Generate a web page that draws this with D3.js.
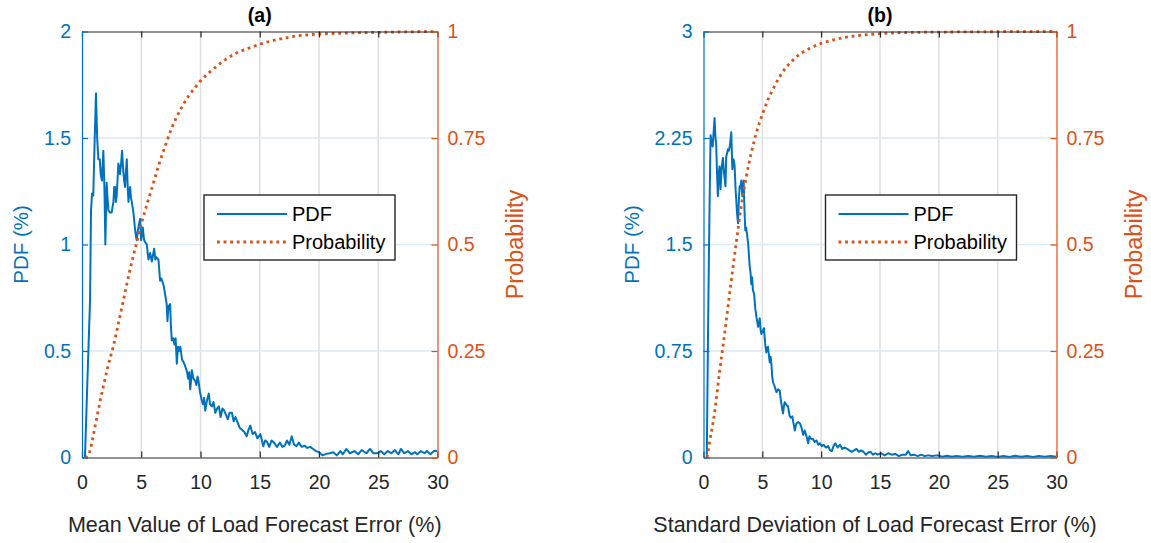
<!DOCTYPE html>
<html>
<head>
<meta charset="utf-8">
<script src="https://cdn.jsdelivr.net/npm/d3@7"></script>
<style>
body{margin:0;background:#fff;}
svg{font-family:"Liberation Sans",Arial,sans-serif;}
</style>
</head>
<body>
<svg id="chart" width="1151" height="543"></svg>
<script>
// values
var xTicks = [0, 5, 10, 15, 20, 25, 30];
var pdfTicksA = [0, 0.5, 1, 1.5, 2];
var pdfLabelsA = ["0", "0.5", "1", "1.5", "2"];
var pdfTicksB = [0, 0.75, 1.5, 2.25, 3];
var pdfLabelsB = ["0", "0.75", "1.5", "2.25", "3"];
var probTicks = [0, 0.25, 0.5, 0.75, 1];
var probLabels = ["0", "0.25", "0.5", "0.75", "1"];
var titles = ["(a)", "(b)"];
var xLabels = ["Mean Value of Load Forecast Error (%)", "Standard Deviation of Load Forecast Error (%)"];
var legendNames = ["PDF", "Probability"];

var pdfA = [[0.25,0],[0.45,0.35],[0.68,0.74],[0.76,1.16],[0.85,1.24],[0.95,1.23],[1.05,1.45],[1.18,1.71],[1.28,1.5],[1.38,1.4],
  [1.5,1.4],[1.58,1.33],[1.68,1.3],[1.8,1.44],[1.9,1.25],[1.97,1.0],[2.08,1.29],[2.15,1.22],[2.23,1.16],[2.35,1.15],
  [2.5,1.15],[2.65,1.2],[2.72,1.27],[2.79,1.27],[2.86,1.2],[2.93,1.23],[3.07,1.38],[3.14,1.36],[3.21,1.33],[3.3,1.38],
  [3.38,1.44],[3.49,1.34],[3.56,1.3],[3.63,1.27],[3.7,1.34],[3.78,1.4],[3.85,1.28],[3.92,1.2],[4.0,1.25],[4.06,1.27],
  [4.13,1.22],[4.2,1.2],[4.34,1.15],[4.48,1.07],[4.55,1.04],[4.62,1.02],[4.7,1.06],[4.76,1.08],[4.83,1.1],[4.9,1.12],
  [4.99,1.02],[5.06,1.05],[5.13,1.08],[5.24,1.02],[5.35,1.01],[5.47,1.0],[5.54,0.96],[5.61,0.93],[5.75,0.96],[5.89,0.92],
  [5.99,0.95],[6.09,0.98],[6.18,0.93],[6.26,0.94],[6.45,0.93],[6.52,0.88],[6.59,0.83],[6.7,0.84],[6.88,0.81],[7.0,0.77],
  [7.15,0.72],[7.21,0.64],[7.3,0.71],[7.44,0.72],[7.5,0.62],[7.58,0.55],[7.7,0.56],[7.8,0.53],[7.9,0.56],[8.0,0.44],
  [8.1,0.52],[8.2,0.5],[8.3,0.52],[8.44,0.46],[8.55,0.45],[8.7,0.43],[8.87,0.4],[8.95,0.37],[9.05,0.4],[9.13,0.32],
  [9.2,0.36],[9.27,0.41],[9.4,0.37],[9.55,0.36],[9.65,0.34],[9.75,0.38],[9.83,0.36],[9.95,0.31],[10.1,0.27],[10.2,0.25],
  [10.3,0.28],[10.4,0.22],[10.55,0.27],[10.7,0.3],[10.8,0.25],[10.96,0.24],[11.1,0.26],[11.25,0.21],[11.4,0.23],[11.55,0.24],
  [11.7,0.19],[11.85,0.23],[12.0,0.22],[12.15,0.2],[12.3,0.18],[12.45,0.21],[12.65,0.21],[12.8,0.17],[12.95,0.19],[13.1,0.17],
  [13.3,0.14],[13.5,0.13],[13.7,0.12],[13.9,0.1],[14.05,0.13],[14.2,0.15],[14.4,0.11],[14.6,0.12],[14.8,0.09],[15.05,0.11],
  [15.3,0.053],[15.45,0.08],[15.6,0.075],[15.8,0.05],[16.0,0.08],[16.2,0.07],[16.45,0.05],[16.7,0.07],[16.9,0.05],[17.1,0.055],
  [17.3,0.08],[17.5,0.06],[17.7,0.1],[17.9,0.06],[18.1,0.053],[18.3,0.07],[18.55,0.05],[18.8,0.055],[19.0,0.045],[19.25,0.05],
  [19.5,0.04],[19.75,0.03],[20.0,0.025],[20.3,0.01],[20.6,0.017],[20.9,0.02],[21.2,0.025],[21.5,0.01],[21.8,0.03],[22.0,0.015],
  [22.3,0.04],[22.6,0.02],[23.0,0.03],[23.3,0.015],[23.6,0.035],[24.0,0.02],[24.3,0.04],[24.6,0.02],[24.9,0.02],[25.2,0.03],
  [25.5,0.015],[25.8,0.03],[26.1,0.02],[26.4,0.035],[26.7,0.015],[26.9,0.04],[27.2,0.02],[27.5,0.03],[27.8,0.015],[28.1,0.025],
  [28.3,0.015],[28.6,0.03],[28.9,0.02],[29.1,0.03],[29.4,0.015],[29.7,0.03],[30.0,0.03]];

var cdfA = [[0.25,0],[0.5,0.004],[0.7,0.018],[0.9,0.045],[1.1,0.073],[1.4,0.115],[1.8,0.167],[2.2,0.215],[2.65,0.262],[3.0,0.305],
  [3.5,0.37],[4.0,0.435],[4.5,0.492],[5.0,0.548],[5.5,0.596],[6.0,0.642],[6.5,0.688],[7.0,0.73],[7.5,0.768],[8.0,0.8],
  [8.5,0.826],[9.0,0.849],[9.5,0.867],[10,0.884],[11,0.91],[12,0.932],[13,0.949],[14,0.96],[15,0.97],[16,0.978],
  [17,0.984],[18,0.989],[20,0.994],[22,0.996],[25,0.998],[30,1.0]];

var pdfB = [[0.28,0],[0.4,1.0],[0.5,1.68],[0.6,2.27],[0.7,2.22],[0.78,2.19],[0.94,2.39],[1.02,2.25],[1.08,2.2],[1.15,2.0],
  [1.22,1.84],[1.3,2.0],[1.36,2.05],[1.45,1.89],[1.55,2.05],[1.65,2.11],[1.75,2.0],[1.87,1.91],[1.93,2.12],[2.0,2.14],
  [2.07,2.17],[2.16,2.16],[2.25,2.2],[2.36,2.29],[2.45,2.03],[2.55,2.1],[2.64,2.06],[2.72,1.9],[2.78,1.82],[2.85,1.72],
  [2.93,1.65],[3.0,1.8],[3.07,1.91],[3.14,1.9],[3.21,1.95],[3.3,1.84],[3.41,1.95],[3.48,1.75],[3.55,1.6],[3.62,1.62],
  [3.69,1.58],[3.8,1.5],[3.92,1.35],[4.0,1.3],[4.06,1.22],[4.13,1.27],[4.2,1.18],[4.3,1.15],[4.4,1.05],[4.49,0.995],
  [4.56,0.96],[4.64,0.92],[4.71,0.95],[4.78,0.98],[4.85,0.9],[4.92,0.87],[5.03,0.89],[5.14,0.91],[5.24,0.8],[5.34,0.74],
  [5.41,0.77],[5.48,0.78],[5.56,0.72],[5.63,0.67],[5.7,0.71],[5.77,0.66],[5.84,0.57],[5.91,0.53],[6.05,0.5],[6.2,0.46],
  [6.34,0.48],[6.48,0.47],[6.55,0.42],[6.62,0.38],[6.69,0.34],[6.76,0.31],[6.83,0.36],[6.9,0.39],[7.05,0.37],[7.19,0.36],
  [7.26,0.32],[7.33,0.29],[7.45,0.28],[7.55,0.29],[7.65,0.24],[7.76,0.19],[7.83,0.22],[7.9,0.24],[8.05,0.25],[8.2,0.24],
  [8.33,0.21],[8.47,0.16],[8.6,0.19],[8.75,0.15],[8.9,0.1],[9.0,0.15],[9.15,0.13],[9.3,0.13],[9.45,0.11],[9.6,0.12],
  [9.75,0.09],[9.9,0.1],[10.05,0.08],[10.2,0.09],[10.4,0.07],[10.6,0.08],[10.75,0.05],[10.9,0.045],[11.05,0.08],[11.2,0.1],
  [11.4,0.07],[11.6,0.09],[11.8,0.06],[12.0,0.07],[12.2,0.06],[12.4,0.05],[12.6,0.04],[12.8,0.05],[13.0,0.06],[13.2,0.04],
  [13.4,0.05],[13.6,0.04],[13.8,0.02],[14.0,0.035],[14.2,0.04],[14.4,0.02],[14.6,0.03],[14.8,0.02],[15.1,0.03],[15.4,0.015],
  [15.7,0.03],[16.0,0.02],[16.3,0.025],[16.6,0.01],[16.9,0.02],[17.2,0.02],[17.4,0.045],[17.6,0.015],[17.9,0.02],[18.2,0.01],
  [18.5,0.02],[18.8,0.01],[19.1,0.015],[19.4,0.01],[19.9,0.015],[20.3,0.005],[20.7,0.012],[21.1,0.005],[21.5,0.01],[22,0.005],
  [22.5,0.01],[23,0.005],[23.5,0.012],[24,0.005],[24.5,0.01],[25,0.004],[25.5,0.01],[26,0.004],[26.5,0.012],[27,0.005],
  [27.5,0.01],[28,0.004],[28.5,0.01],[29,0.005],[29.5,0.01],[30,0.005]];

var cdfB = [[0.3,0],[0.51,0.035],[0.94,0.105],[1.36,0.2],[1.79,0.29],[2.2,0.38],[2.78,0.504],[3.21,0.59],[3.64,0.66],[4.06,0.715],
  [4.49,0.762],[5.06,0.81],[5.48,0.84],[6,0.87],[6.5,0.895],[7,0.915],[7.5,0.93],[8,0.943],[9,0.96],[10,0.972],
  [11,0.98],[12,0.986],[13,0.99],[15,0.995],[18,0.998],[22,0.999],[30,1.0]];

var blue = '#0072BD', orange = '#D95319', dark = '#262626';
var svg = d3.select('#chart');

function panel(o){
    var top = 31.5, bottom = 457.5;
    var x = d3.scaleLinear().domain([0, 30]).range([o.left, o.right]);
    var yL = d3.scaleLinear().domain([0, o.pdfTicks[o.pdfTicks.length - 1]]).range([bottom, top]);
    var yR = d3.scaleLinear().domain([0, 1]).range([bottom, top]);
    var g = svg.append('g');

    //grid: gray verticals, bluish horizontals from the left axis
    g.append('g').selectAll('line').data(xTicks.slice(1, -1)).join('line')
        .attr('x1', d => x(d)).attr('x2', d => x(d)).attr('y1', top).attr('y2', bottom)
        .attr('stroke', '#dfdfdf').attr('stroke-width', 1.5);
    g.append('g').selectAll('line').data(o.pdfTicks.slice(1, -1)).join('line')
        .attr('x1', o.left).attr('x2', o.right).attr('y1', d => yL(d)).attr('y2', d => yL(d))
        .attr('stroke', '#dbe9f5').attr('stroke-width', 1.5);

    g.append('clipPath').attr('id', o.id).append('rect')
        .attr('x', o.left).attr('y', top - 3).attr('width', o.right - o.left).attr('height', bottom - top + 3);
    var curves = g.append('g').attr('clip-path', 'url(#' + o.id + ')');
    curves.append('path').datum(o.pdf)
        .attr('d', d3.line().x(d => x(d[0])).y(d => yL(d[1])))
        .attr('fill', 'none').attr('stroke', blue).attr('stroke-width', 2).attr('stroke-linejoin', 'round');
    curves.append('path').datum(o.cdf)
        .attr('d', d3.line().curve(d3.curveMonotoneX).x(d => x(d[0])).y(d => yR(d[1])))
        .attr('fill', 'none').attr('stroke', orange).attr('stroke-width', 2.8).attr('stroke-dasharray', '2.8,3.8');

    //axes, ticks pointing inward
    function style(sel, color){
        sel.attr('font-family', null).attr('font-size', null);
        sel.select('.domain').attr('stroke', color).attr('stroke-width', 1.2);
        sel.selectAll('.tick line').attr('stroke', color).attr('stroke-width', 1.2);
        sel.selectAll('.tick text').attr('fill', color).style('font-size', '19.5px');
    }
    g.append('g').attr('transform', 'translate(0,' + top + ')')
        .call(d3.axisTop(x).tickValues(xTicks).tickFormat('').tickSizeInner(-6).tickSizeOuter(0))
        .call(style, dark);
    g.append('g').attr('transform', 'translate(0,' + bottom + ')')
        .call(d3.axisBottom(x).tickValues(xTicks).tickSizeInner(-6).tickSizeOuter(0).tickPadding(18))
        .call(style, dark);
    g.append('g').attr('transform', 'translate(' + o.left + ',0)')
        .call(d3.axisLeft(yL).tickValues(o.pdfTicks).tickFormat((d, i) => o.pdfLabels[i]).tickSizeInner(-6).tickSizeOuter(0).tickPadding(11))
        .call(style, blue);
    g.append('g').attr('transform', 'translate(' + o.right + ',0)')
        .call(d3.axisRight(yR).tickValues(probTicks).tickFormat((d, i) => probLabels[i]).tickSizeInner(-6).tickSizeOuter(0).tickPadding(10))
        .call(style, orange);

    var cx = (o.left + o.right) / 2;
    g.append('text').attr('x', cx).attr('y', 22).attr('text-anchor', 'middle')
        .attr('font-weight', 'bold').attr('font-size', 19.5).attr('fill', '#000').text(o.title);
    g.append('text').attr('x', cx - 5).attr('y', 532).attr('text-anchor', 'middle')
        .attr('font-size', 21.5).attr('fill', dark).text(o.xLabel);
    g.append('text').attr('transform', 'translate(' + o.pdfLabelX + ',' + (top + bottom) / 2 + ') rotate(-90)')
        .attr('text-anchor', 'middle').attr('font-size', 20.5).attr('fill', blue).text('PDF (%)');
    g.append('text').attr('transform', 'translate(' + o.probLabelX + ',' + (top + bottom) / 2 + ') rotate(-90)')
        .attr('text-anchor', 'middle').attr('font-size', 23.5).attr('fill', orange).text('Probability');

    //legend
    var lg = g.append('g').attr('transform', 'translate(' + (o.left + 122) + ',195)');
    lg.append('rect').attr('width', 191).attr('height', 65).attr('fill', '#fff').attr('stroke', dark).attr('stroke-width', 1.4);
    lg.append('line').attr('x1', 13).attr('x2', 83).attr('y1', 19).attr('y2', 19).attr('stroke', blue).attr('stroke-width', 2);
    lg.append('line').attr('x1', 13).attr('x2', 83).attr('y1', 47).attr('y2', 47).attr('stroke', orange)
        .attr('stroke-width', 2.8).attr('stroke-dasharray', '2.8,3.8');
    lg.selectAll('text.name').data(legendNames).join('text').attr('class', 'name')
        .attr('x', 88).attr('y', (d, i) => 19 + 28 * i).attr('dy', '0.36em')
        .attr('font-size', 20).attr('fill', '#000').text(d => d);
}

panel({id: 'clipA', left: 82, right: 437.5, pdf: pdfA, cdf: cdfA, pdfTicks: pdfTicksA, pdfLabels: pdfLabelsA,
    title: titles[0], xLabel: xLabels[0], pdfLabelX: 27.5, probLabelX: 523});
panel({id: 'clipB', left: 703.5, right: 1056.5, pdf: pdfB, cdf: cdfB, pdfTicks: pdfTicksB, pdfLabels: pdfLabelsB,
    title: titles[1], xLabel: xLabels[1], pdfLabelX: 638.5, probLabelX: 1142});
</script>
</body>
</html>
